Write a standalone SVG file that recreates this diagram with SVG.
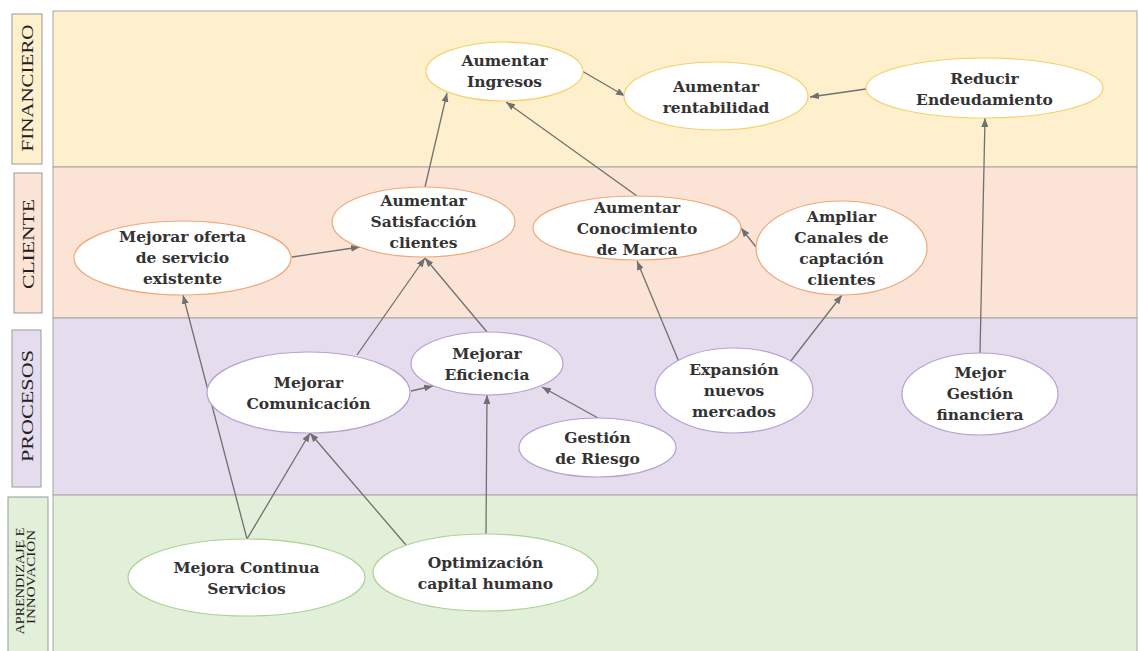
<svg xmlns="http://www.w3.org/2000/svg" width="1139" height="651" viewBox="0 0 1139 651">
<style>
.band{stroke:#a6a6a6;stroke-width:1}
.lab{stroke:#9a9a9a;stroke-width:1}
.lt{font-family:"Liberation Serif","Times New Roman",serif;font-size:17px;fill:#222;text-anchor:middle}
.lt2{font-family:"Liberation Serif","Times New Roman",serif;font-size:11.5px;fill:#222;text-anchor:middle}
.n ellipse{fill:#fff;stroke-width:1.2}
.f ellipse{stroke:#f5d06a}
.c ellipse{stroke:#f0a878}
.p ellipse{stroke:#b7a0d2}
.a ellipse{stroke:#abd394}
.n text{font-family:"DejaVu Serif","Liberation Serif",serif;font-weight:bold;font-size:15.5px;fill:#333;text-anchor:middle}
#edges path{fill:none;stroke:#707070;stroke-width:1.3;marker-end:url(#ah)}
</style>
<defs>
<marker id="ah" markerWidth="9" markerHeight="7" refX="9" refY="3.5" orient="auto" markerUnits="userSpaceOnUse">
<path d="M0,0 L9,3.5 L0,7 z" fill="#707070"/>
</marker>
</defs>
<rect width="1139" height="651" fill="#fff"/>
<g id="bands">
<rect class="band" x="53" y="11" width="1084" height="156" fill="#fef0cd"/>
<rect class="band" x="53" y="167" width="1084" height="151" fill="#fbe4d6"/>
<rect class="band" x="53" y="318" width="1084" height="177" fill="#e5dded"/>
<rect class="band" x="53" y="495" width="1084" height="160" fill="#e2efd9"/>
<rect class="lab" x="12" y="14" width="30" height="150" fill="#fef0cd"/>
<rect class="lab" x="14" y="173" width="28" height="140" fill="#fbe4d6"/>
<rect class="lab" x="12" y="330" width="29" height="157" fill="#e5dded"/>
<rect class="lab" x="8" y="497" width="40" height="158" fill="#e2efd9"/>
<text class="lt" transform="translate(33,88) rotate(-90)" textLength="127" lengthAdjust="spacingAndGlyphs">FINANCIERO</text>
<text class="lt" transform="translate(34,244) rotate(-90)" textLength="90" lengthAdjust="spacingAndGlyphs">CLIENTE</text>
<text class="lt" transform="translate(33,406) rotate(-90)" textLength="112" lengthAdjust="spacingAndGlyphs">PROCESOS</text>
<text class="lt2" transform="translate(24,581) rotate(-90)" textLength="107" lengthAdjust="spacingAndGlyphs">APRENDIZAJE E</text>
<text class="lt2" transform="translate(35,577) rotate(-90)" textLength="94" lengthAdjust="spacingAndGlyphs">INNOVACIÓN</text>
</g>
<g id="edges">
<path d="M582,71 L625,96"/>
<path d="M866,89 L810,97"/>
<path d="M425,187 L447,93"/>
<path d="M637,196 L506,102"/>
<path d="M292,257 L360,247"/>
<path d="M756,247 L741,228"/>
<path d="M357,355 L425,258"/>
<path d="M487,332 L425,258"/>
<path d="M411,391 L433,386"/>
<path d="M598,418 L542,387"/>
<path d="M679,362 L637,261"/>
<path d="M790,362 L842,295"/>
<path d="M980,353 L985,118"/>
<path d="M247,539 L183,295"/>
<path d="M247,539 L310,433"/>
<path d="M406,545 L310,433"/>
<path d="M486,534 L487,395"/>
</g>
<g id="n-ingresos" class="n f"><ellipse cx="504.5" cy="71.5" rx="78.5" ry="29.5"/><text x="504.5" y="66">Aumentar</text><text x="504.5" y="87">Ingresos</text></g>
<g id="n-rentabilidad" class="n f"><ellipse cx="716" cy="96" rx="92" ry="34"/><text x="716" y="92">Aumentar</text><text x="716" y="113">rentabilidad</text></g>
<g id="n-endeudamiento" class="n f"><ellipse cx="984.5" cy="88" rx="118.5" ry="30"/><text x="984.5" y="84">Reducir</text><text x="984.5" y="105">Endeudamiento</text></g>
<g id="n-satisfaccion" class="n c"><ellipse cx="423.5" cy="222" rx="91.5" ry="35"/><text x="423.5" y="206">Aumentar</text><text x="423.5" y="227">Satisfacción</text><text x="423.5" y="248">clientes</text></g>
<g id="n-oferta" class="n c"><ellipse cx="182.5" cy="258" rx="108.5" ry="37"/><text x="182.5" y="242">Mejorar oferta</text><text x="182.5" y="263">de servicio</text><text x="182.5" y="284">existente</text></g>
<g id="n-marca" class="n c"><ellipse cx="637" cy="228" rx="104" ry="32"/><text x="637" y="213">Aumentar</text><text x="637" y="234">Conocimiento</text><text x="637" y="255">de Marca</text></g>
<g id="n-canales" class="n c"><ellipse cx="841.5" cy="248" rx="85.5" ry="47"/><text x="841.5" y="222">Ampliar</text><text x="841.5" y="243">Canales de</text><text x="841.5" y="264">captación</text><text x="841.5" y="285">clientes</text></g>
<g id="n-comunicacion" class="n p"><ellipse cx="308.5" cy="392.5" rx="101.5" ry="40.5"/><text x="308.5" y="388">Mejorar</text><text x="308.5" y="409">Comunicación</text></g>
<g id="n-eficiencia" class="n p"><ellipse cx="487" cy="363.5" rx="76" ry="31.5"/><text x="487" y="359">Mejorar</text><text x="487" y="380">Eficiencia</text></g>
<g id="n-riesgo" class="n p"><ellipse cx="597.5" cy="447.5" rx="78.5" ry="29.5"/><text x="597.5" y="443">Gestión</text><text x="597.5" y="464">de Riesgo</text></g>
<g id="n-expansion" class="n p"><ellipse cx="734" cy="390.5" rx="79" ry="42.5"/><text x="734" y="375">Expansión</text><text x="734" y="396">nuevos</text><text x="734" y="417">mercados</text></g>
<g id="n-gestionfin" class="n p"><ellipse cx="980" cy="394" rx="78" ry="41"/><text x="980" y="378">Mejor</text><text x="980" y="399">Gestión</text><text x="980" y="420">financiera</text></g>
<g id="n-mejoracontinua" class="n a"><ellipse cx="246.5" cy="577.5" rx="118.5" ry="38.5"/><text x="246.5" y="573">Mejora Continua</text><text x="246.5" y="594">Servicios</text></g>
<g id="n-capital" class="n a"><ellipse cx="485.5" cy="572.5" rx="112.5" ry="38.5"/><text x="485.5" y="568">Optimización</text><text x="485.5" y="589">capital humano</text></g>
</svg>
